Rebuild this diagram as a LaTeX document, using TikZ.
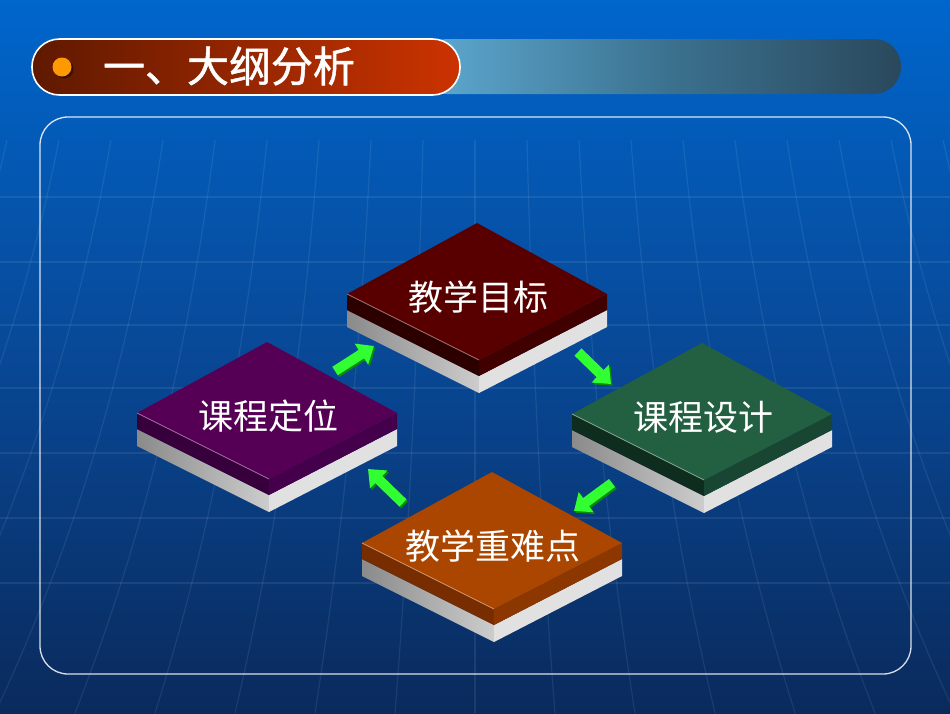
\documentclass[tikz,border=0pt]{standalone}
\usepackage{fontspec}
\newfontfamily\cjk{Noto Sans CJK SC}
\newfontfamily\cjkb[FakeBold=1.2]{Noto Sans CJK SC}
\usetikzlibrary{arrows.meta}
\definecolor{bgtop}{RGB}{0,102,204}
\definecolor{bgmid}{RGB}{8,72,150}
\definecolor{bgbot}{RGB}{10,42,92}
\definecolor{redL}{RGB}{95,25,0}
\definecolor{redR}{RGB}{204,51,0}
\definecolor{pillL}{RGB}{95,170,210}
\definecolor{pillM}{RGB}{60,115,145}
\definecolor{pillR}{RGB}{42,72,92}
\definecolor{dotc}{RGB}{255,153,0}
\definecolor{grayL}{RGB}{138,138,138}
\definecolor{grayM}{RGB}{205,205,205}
\definecolor{grayR}{RGB}{225,225,225}
\definecolor{garrow}{RGB}{50,255,50}
\definecolor{garrowd}{RGB}{10,140,10}
% block colours
\definecolor{mrT}{RGB}{88,0,0}\definecolor{mrL}{RGB}{45,0,0}\definecolor{mrR}{RGB}{65,0,0}
\definecolor{puT}{RGB}{85,0,85}\definecolor{puL}{RGB}{55,0,60}\definecolor{puR}{RGB}{68,0,75}
\definecolor{grT}{RGB}{35,95,65}\definecolor{grL}{RGB}{15,45,30}\definecolor{grR}{RGB}{25,70,50}
\definecolor{orT}{RGB}{170,70,0}\definecolor{orL}{RGB}{120,45,0}\definecolor{orR}{RGB}{140,55,0}
\tikzset{
  gridline/.style={white, opacity=0.08, line width=1.2pt},
  blocktext/.style={text=white, font=\cjk\fontsize{35}{35}\selectfont, inner sep=0pt},
  titletext/.style={text=white, font=\cjkb\fontsize{42}{42}\selectfont, inner sep=0pt},
  flowarrow/.style={draw=garrow, line width=10pt, -{Triangle[width=24pt,length=15pt]}},
  flowshadow/.style={draw=garrowd, line width=10pt, -{Triangle[width=24pt,length=15pt]}, transform canvas={shift={(1.6pt,-1.8pt)}}},
}
\newcommand\slab[7]{%
\begin{scope}[shift={(#1,#2)}]
  \shade[left color=grayL, right color=grayM] (-130,87) -- (2,153) -- (2,170) -- (-130,104) -- cycle;
  \fill[grayR] (2,153) -- (130,87) -- (130,104) -- (2,170) -- cycle;
  \fill[#4] (-130,71) -- (2,137) -- (2,153) -- (-130,87) -- cycle;
  \fill[#5] (2,137) -- (130,71) -- (130,87) -- (2,153) -- cycle;
  \fill[#3] (0,0) -- (-130,71) -- (2,137) -- (130,71) -- cycle;
  \draw[#3!55!white, line width=0.8pt] (-130,71) -- (2,137);
\end{scope}
\node[blocktext] (#6) at ({#1+1},{#2+74}) {#7};
}
\begin{document}
\begin{tikzpicture}[x=1pt,y=-1pt]
\useasboundingbox (0,0) rectangle (950,713);
% background
\shade[top color=bgtop, bottom color=bgbot, middle color=bgmid] (0,0) rectangle (950,713);
\foreach \yy in {197,262,325,388,453,518,583}
  \draw[gridline] (0,\yy) -- (950,\yy);
\foreach \k in {-9,...,9}
  \draw[gridline] ({475+\k*52},140) .. controls ({475+\k*58},380) and ({475+\k*68},560) .. ({475+\k*80},713);
% title bar
\shade[left color=pillL, right color=pillR, middle color=pillM, rounded corners=27pt] (420,39) rectangle (901,94);
\shadedraw[left color=redL, right color=redR, draw=white, line width=1.6pt, rounded corners=27.5pt] (32,39) rectangle (460,95);
\fill[black, opacity=0.45] (64,69) circle (9.5);
\fill[dotc] (62,67) circle (9.5);
\node[titletext] (title) at (229,66) {一、大纲分析};
% panel
\draw[white, opacity=0.85, line width=1.3pt, rounded corners=28pt] (40,117) rectangle (911,674);
% blocks
\slab{477}{223}{mrT}{mrL}{mrR}{goal}{教学目标}
\slab{267}{342}{puT}{puL}{puR}{pos}{课程定位}
\slab{702}{343}{grT}{grL}{grR}{design}{课程设计}
\slab{492}{472}{orT}{orL}{orR}{key}{教学重难点}
% arrow end points
\coordinate (a1s) at (335,371); \coordinate (a1e) at (374,346);
\coordinate (a2s) at (578,352); \coordinate (a2e) at (611,384);
\coordinate (a3s) at (612,483); \coordinate (a3e) at (574,511);
\coordinate (a4s) at (403,503); \coordinate (a4e) at (368,469);
\foreach \s/\e in {a1s/a1e,a2s/a2e,a3s/a3e,a4s/a4e}{
  \draw[flowshadow] (\s) -- (\e);
  \draw[flowarrow] (\s) -- (\e);
}
\end{tikzpicture}
\end{document}
